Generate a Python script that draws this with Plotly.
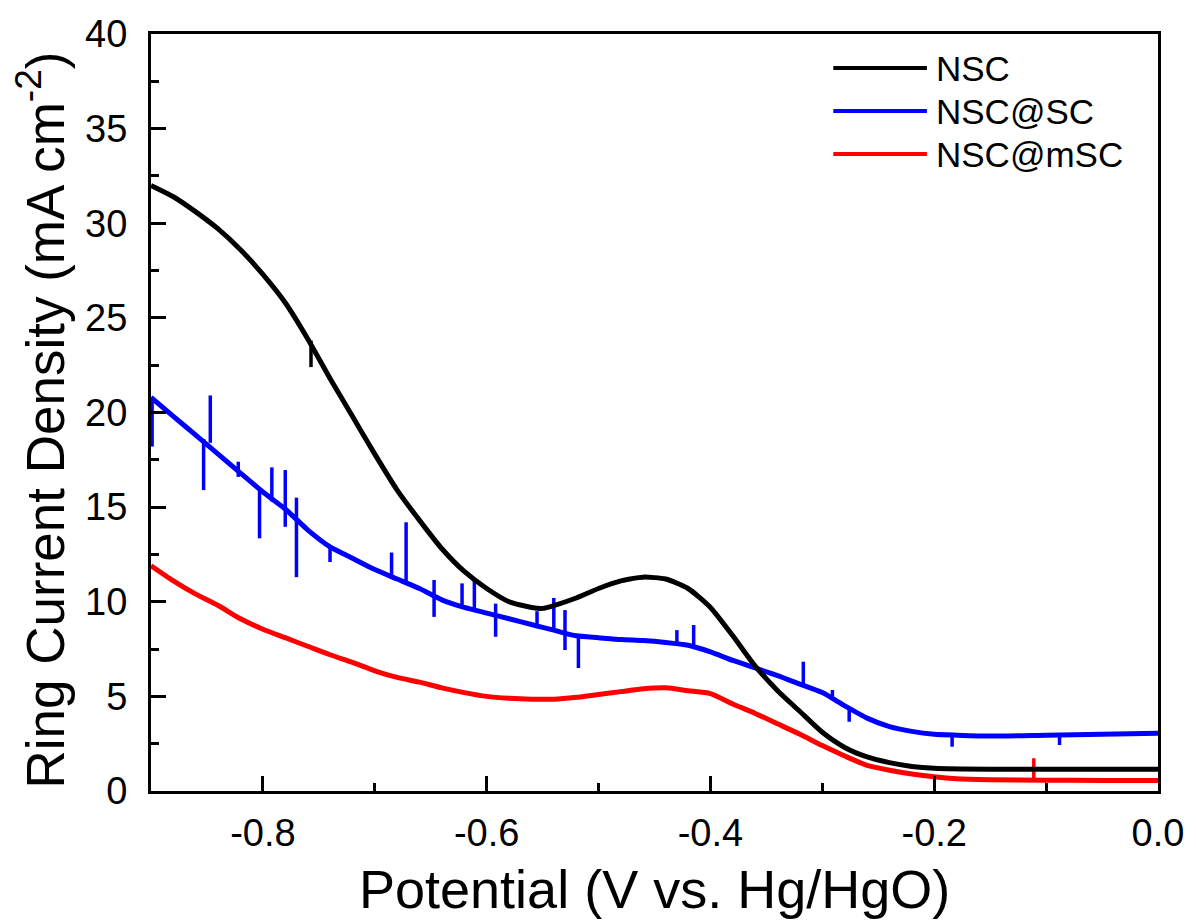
import plotly.graph_objects as go

# ---------------- data ----------------
nsc_x = [-0.90, -0.88, -0.86, -0.84, -0.82, -0.80, -0.78, -0.76, -0.74, -0.72,
         -0.70, -0.68, -0.66, -0.64, -0.62, -0.60, -0.58, -0.56, -0.55, -0.54,
         -0.52, -0.50, -0.48, -0.46, -0.44, -0.42, -0.40, -0.38, -0.36, -0.34,
         -0.32, -0.30, -0.28, -0.26, -0.24, -0.22, -0.20, -0.15, -0.10, -0.05, 0.00]
nsc_y = [32.0, 31.4, 30.6, 29.7, 28.6, 27.3, 25.8, 23.9, 21.8, 19.8,
         17.8, 15.9, 14.3, 12.8, 11.6, 10.7, 10.0, 9.7, 9.65, 9.8,
         10.2, 10.7, 11.1, 11.3, 11.2, 10.7, 9.7, 8.2, 6.6, 5.3,
         4.2, 3.1, 2.3, 1.8, 1.5, 1.3, 1.2, 1.15, 1.15, 1.15, 1.15]

sc_x = [-0.90, -0.88, -0.86, -0.84, -0.82, -0.80, -0.78, -0.76, -0.74, -0.72,
        -0.70, -0.68, -0.66, -0.64, -0.62, -0.60, -0.58, -0.56, -0.54, -0.52,
        -0.50, -0.48, -0.46, -0.44, -0.42, -0.40, -0.38, -0.36, -0.34, -0.32,
        -0.30, -0.28, -0.26, -0.24, -0.22, -0.20, -0.18, -0.15, -0.10, -0.05, 0.00]
sc_y = [20.8, 19.8, 18.8, 17.8, 16.8, 15.8, 14.9, 13.8, 12.9, 12.3,
        11.7, 11.2, 10.7, 10.1, 9.7, 9.4, 9.1, 8.8, 8.5, 8.2,
        8.1, 8.0, 7.95, 7.85, 7.7, 7.35, 6.9, 6.5, 6.1, 5.65,
        5.2, 4.5, 3.85, 3.4, 3.15, 3.0, 2.95, 2.9, 2.95, 3.0, 3.05]

msc_x = [-0.90, -0.88, -0.86, -0.84, -0.82, -0.80, -0.78, -0.76, -0.74, -0.72,
         -0.70, -0.68, -0.66, -0.64, -0.62, -0.60, -0.58, -0.56, -0.54, -0.52,
         -0.50, -0.48, -0.46, -0.44, -0.42, -0.40, -0.38, -0.36, -0.34, -0.32,
         -0.30, -0.28, -0.26, -0.24, -0.22, -0.20, -0.18, -0.15, -0.10, -0.05, 0.00]
msc_y = [11.9, 11.1, 10.4, 9.8, 9.1, 8.55, 8.1, 7.65, 7.2, 6.8,
         6.35, 6.0, 5.75, 5.45, 5.2, 5.0, 4.9, 4.85, 4.85, 4.95,
         5.1, 5.25, 5.4, 5.45, 5.3, 5.15, 4.6, 4.1, 3.55, 3.0,
         2.4, 1.85, 1.35, 1.1, 0.9, 0.75, 0.65, 0.6, 0.57, 0.56, 0.55]

# noise spikes: position, low end, high end
sc_spike_x = [-0.899, -0.853, -0.847, -0.822, -0.803, -0.792, -0.780, -0.770, -0.740,
              -0.685, -0.672, -0.647, -0.622, -0.611, -0.592, -0.555, -0.540, -0.530,
              -0.518, -0.430, -0.415, -0.317, -0.291, -0.276, -0.184, -0.088]
sc_spike_lo = [18.2, 15.9, 18.4, 16.6, 13.35, 15.3, 13.96, 11.3, 12.1,
               11.4, 11.1, 9.2, 9.7, 9.6, 8.15, 8.6, 8.6, 7.45,
               6.5, 7.8, 7.7, 5.6, 5.0, 3.66, 2.34, 2.43]
sc_spike_hi = [20.8, 18.6, 20.9, 17.4, 15.9, 17.1, 16.96, 15.5, 12.9,
               12.6, 14.2, 11.15, 10.97, 11.2, 9.9, 9.5, 10.2, 9.56,
               8.25, 8.5, 8.77, 6.83, 5.34, 4.3, 2.95, 2.95]
nsc_spike_x = [-0.757]
nsc_spike_lo = [22.4]
nsc_spike_hi = [23.8]
msc_spike_x = [-0.111]
msc_spike_lo = [0.57]
msc_spike_hi = [1.73]

series_names = ["NSC", "NSC@SC", "NSC@mSC"]
series_colors = ["#000000", "#0000ff", "#ff0000"]

x_tick_vals = [-0.8, -0.6, -0.4, -0.2, 0.0]
x_tick_text = ["-0.8", "-0.6", "-0.4", "-0.2", "0.0"]
y_tick_vals = [0, 5, 10, 15, 20, 25, 30, 35, 40]

FONT = "Arial, Liberation Sans, sans-serif"
LW = 5


def spike_xy(xs, lo, hi):
    X, Y = [], []
    for a, b, c in zip(xs, lo, hi):
        X += [a, a, None]
        Y += [b, c, None]
    return X, Y


fig = go.Figure()
curves = [(nsc_x, nsc_y, nsc_spike_x, nsc_spike_lo, nsc_spike_hi),
          (sc_x, sc_y, sc_spike_x, sc_spike_lo, sc_spike_hi),
          (msc_x, msc_y, msc_spike_x, msc_spike_lo, msc_spike_hi)]
# draw order: red first, blue, black on top
for idx in [2, 1, 0]:
    cx, cy, sx, slo, shi = curves[idx]
    col = series_colors[idx]
    fig.add_trace(go.Scatter(x=cx, y=cy, mode="lines", name=series_names[idx],
                             line=dict(color=col, width=LW, shape="spline", smoothing=0.6),
                             showlegend=False))
    X, Y = spike_xy(sx, slo, shi)
    fig.add_trace(go.Scatter(x=X, y=Y, mode="lines", line=dict(color=col, width=3.5),
                             showlegend=False, hoverinfo="skip"))

# ---- manual legend (long line samples like the original) ----
L, R, T, B = 151, 1162, 34, 791
W, H = R - L, B - T
def px(xp):
    return (xp - L) / W
def py(yp):
    return (B - yp) / H

shapes = []
annotations = []
leg_rows = [68, 111, 154]
for i, yy in enumerate(leg_rows):
    shapes.append(dict(type="line", xref="paper", yref="paper",
                       x0=px(836), x1=px(930), y0=py(yy), y1=py(yy),
                       line=dict(color=series_colors[i], width=4)))
    annotations.append(dict(xref="paper", yref="paper", x=px(937), y=py(yy),
                            xanchor="left", yanchor="middle", showarrow=False,
                            text=series_names[i],
                            font=dict(family=FONT, size=35, color="black")))

annotations.append(dict(xref="paper", yref="paper", x=0.5, y=py(889),
                        xanchor="center", yanchor="middle", showarrow=False,
                        text="Potential (V vs. Hg/HgO)",
                        font=dict(family=FONT, size=54, color="black")))
annotations.append(dict(xref="paper", yref="paper", x=px(40), y=py(420),
                        xanchor="center", yanchor="middle", showarrow=False,
                        textangle=-90,
                        text="Ring Current Density (mA cm<sup>-2</sup>)",
                        font=dict(family=FONT, size=53, color="black")))

axis_common = dict(showgrid=False, zeroline=False, showline=True, linecolor="black",
                   linewidth=3, mirror=True, ticks="inside", ticklen=15, tickwidth=3,
                   tickcolor="black", tickfont=dict(family=FONT, size=38, color="black"))

fig.update_layout(
    width=1196, height=922,
    margin=dict(l=L, r=1196 - R, t=T, b=922 - B),
    paper_bgcolor="white", plot_bgcolor="white",
    showlegend=False,
    xaxis=dict(range=[-0.9, 0.0], tickvals=x_tick_vals, ticktext=x_tick_text,
               minor=dict(dtick=0.1, ticks="inside", ticklen=8, tickwidth=3, tickcolor="black"),
               ticklabelstandoff=6, **axis_common),
    yaxis=dict(range=[0, 40], tickvals=y_tick_vals,
               minor=dict(dtick=2.5, ticks="inside", ticklen=8, tickwidth=3, tickcolor="black"),
               ticklabelstandoff=13, **axis_common),
    shapes=shapes, annotations=annotations,
)

fig.write_html("out.html")
